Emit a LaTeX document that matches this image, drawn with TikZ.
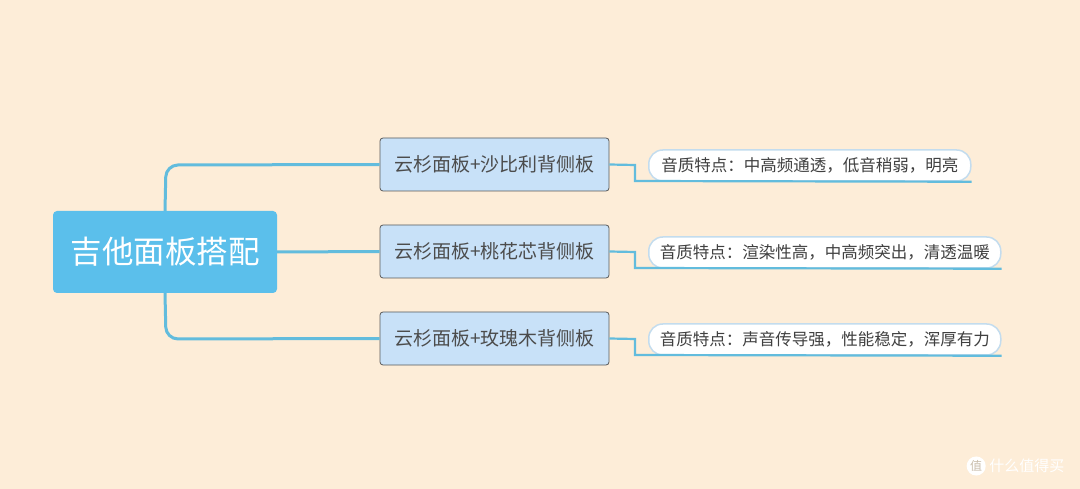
\documentclass[tikz,border=0pt]{standalone}
\usepackage{fontspec}
\newfontfamily\cjk{Noto Sans CJK SC}
\definecolor{bg}{HTML}{FDEDD8}
\definecolor{ln}{HTML}{62BCDD}
\definecolor{rootc}{HTML}{5BBFEB}
\definecolor{childc}{HTML}{C8E1F8}
\definecolor{leafb}{HTML}{C3DCEE}
\begin{document}
\begin{tikzpicture}[x=1pt,y=-1pt,
 root/.style={draw=none,fill=rootc,rounded corners=4pt,minimum width=224pt,minimum height=82pt,text=white,font=\cjk\fontsize{31.5}{34}\selectfont},
 child/.style={draw=black!65,fill=childc,rounded corners=3pt,minimum width=229pt,minimum height=53pt,text=black!70,font=\cjk\fontsize{19}{22}\selectfont,line width=0.8pt},
 leaf/.style={draw=leafb,fill=white,rounded corners=14pt,minimum height=31pt,text=black!75,font=\cjk\fontsize{16.5}{19}\selectfont,line width=1.5pt,anchor=west,inner xsep=6pt},
 conn/.style={draw=ln,line width=3pt,rounded corners=12pt},
 sconn/.style={draw=ln,line width=2.2pt}]
\fill[bg] (0,0) rectangle (1080,489);
\useasboundingbox (0,0) rectangle (1080,489);
\node[root] (r) at (165,252) {吉他面板搭配};
\node[child] (c1) at (494.5,164.5) {云杉面板+沙比利背侧板};
\node[child] (c2) at (494.5,251.5) {云杉面板+桃花芯背侧板};
\node[child] (c3) at (494.5,338.5) {云杉面板+玫瑰木背侧板};
\node[leaf,minimum width=322pt] (l1) at (648,165.5) {音质特点：中高频通透，低音稍弱，明亮};
\node[leaf,minimum width=352pt] (l2) at (648,252.5) {音质特点：渲染性高，中高频突出，清透温暖};
\node[leaf,minimum width=352pt] (l3) at (648,339.5) {音质特点：声音传导强，性能稳定，浑厚有力};
\draw[conn] (r.north) -- (166,165) -- (c1.west);
\draw[conn] (r.east) -- (c2.west);
\draw[conn] (r.south) -- (166,339) -- (c3.west);
\foreach \i/\y in {1/165,2/252,3/339}{
 \draw[sconn] (c\i.east) -- (635,\y) -- (635,\y+16) -- (l\i.south east);
}
\node[text=white,font=\cjk\fontsize{15}{18}\selectfont,anchor=east] (wm) at (1068,466) {什么值得买};
\node[circle,fill=white,text=bg!80!black,inner sep=1pt,font=\cjk\fontsize{12}{14}\selectfont,anchor=east] (wi) at (wm.west) {值};
\end{tikzpicture}
\end{document}
